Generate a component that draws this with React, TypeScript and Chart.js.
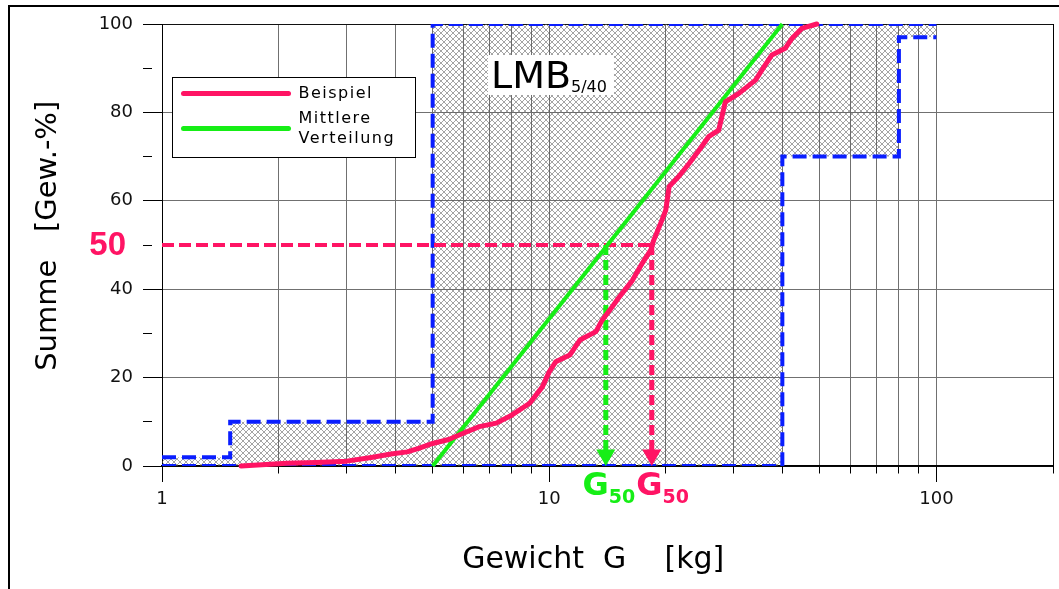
import React, { useEffect, useRef } from 'react';
import { Chart, registerables } from 'chart.js';

Chart.register(...registerables);

// ---------- data ----------
const beispielX = [1.6, 2.1, 2.5, 3.0, 3.5, 3.9, 4.3, 4.6, 5.0, 5.5, 6.0, 6.6, 7.3, 8.0, 8.9, 9.6, 10.0, 10.4, 11.3, 12.0, 13.2, 13.7, 14.4, 15.1, 16.4, 17.4, 18.3, 18.6, 19.4, 20.0, 20.4, 21.6, 23.0, 24.4, 25.8, 27.4, 28.5, 30.9, 34.1, 36.1, 37.6, 40.7, 42.4, 44.9, 49.1];
const beispielY = [0, 0.6, 0.8, 1.1, 2.0, 2.7, 3.2, 4.0, 5.1, 6.0, 7.4, 8.9, 9.7, 11.5, 14.2, 17.9, 21.3, 23.6, 25.1, 28.5, 30.4, 33.0, 35.5, 38.0, 42.0, 45.9, 48.9, 51.0, 54.9, 57.9, 63.2, 65.5, 68.5, 71.5, 74.5, 76.0, 82.4, 84.3, 87.3, 90.7, 93.0, 94.5, 96.8, 99.0, 100];

const mittlereX = [5, 40];
const mittlereY = [0, 100];

const bandUpperX = [1, 1.5, 5, 100];
const bandUpperY = [2, 10, 100, 100];
const bandLowerX = [1, 40, 80, 100];
const bandLowerY = [0, 70, 97, 97];

const g50Level = 50;
const g50Mittlere = 14.0;
const g50Beispiel = 18.4;
const arrowEndY = 2.5;
const levelLineStartX = 1;

const xTickValues = [1, 2, 3, 4, 5, 6, 7, 8, 9, 10, 20, 30, 40, 50, 60, 70, 80, 90, 100, 200];
const xLabelValues = [1, 10, 100];
const yTickValues = [0, 10, 20, 30, 40, 50, 60, 70, 80, 90, 100];

const legendLabels = ['Beispiel', ['Mittlere', 'Verteilung']];

// ---------- styles ----------
const PINK = '#ff1464';
const GREEN = '#16ee16';
const BLUE = '#0a1eff';
const FONT = '"DejaVu Sans", "Liberation Sans", sans-serif';

const zip = (xs: number[], ys: number[]) => xs.map((x, i) => ({ x, y: ys[i] }));

function makeHatch(): CanvasPattern | string {
  const c = document.createElement('canvas');
  c.width = 6;
  c.height = 6;
  const g = c.getContext('2d');
  if (!g) return 'rgba(150,150,150,0.4)';
  g.strokeStyle = 'rgba(90,90,90,0.55)';
  g.lineWidth = 1;
  g.beginPath();
  g.moveTo(0, 0);
  g.lineTo(6, 6);
  g.moveTo(6, 0);
  g.lineTo(0, 6);
  g.stroke();
  const p = g.createPattern(c, 'repeat');
  return p || 'rgba(150,150,150,0.4)';
}

const annotationPlugin = {
  id: 'annotations',
  afterDraw(chart: any) {
    const { ctx, chartArea: ca, scales } = chart;
    const xs = scales.x;
    const ys = scales.y;
    ctx.save();

    // legend box
    const lx = ca.left + 10.5;
    const ly = ca.top + 53.5;
    ctx.fillStyle = '#fff';
    ctx.fillRect(lx, ly, 243, 80);
    ctx.strokeStyle = '#000';
    ctx.lineWidth = 1;
    ctx.strokeRect(lx, ly, 243, 80);
    const dsB = chart.data.datasets.find((d: any) => d.label === 'Beispiel');
    const dsM = chart.data.datasets.find((d: any) => d.label === 'Mittlere Verteilung');
    ctx.lineCap = 'round';
    ctx.lineWidth = 5;
    ctx.strokeStyle = dsB.borderColor;
    ctx.beginPath();
    ctx.moveTo(lx + 11, ly + 16);
    ctx.lineTo(lx + 116, ly + 16);
    ctx.stroke();
    ctx.strokeStyle = dsM.borderColor;
    ctx.beginPath();
    ctx.moveTo(lx + 11, ly + 51);
    ctx.lineTo(lx + 116, ly + 51);
    ctx.stroke();
    ctx.fillStyle = '#000';
    ctx.font = '16px ' + FONT;
    (ctx as any).letterSpacing = '1.5px';
    ctx.textAlign = 'left';
    ctx.textBaseline = 'middle';
    ctx.fillText(legendLabels[0] as string, lx + 126, ly + 16);
    const ml = legendLabels[1] as string[];
    ctx.fillText(ml[0], lx + 126, ly + 41);
    ctx.fillText(ml[1], lx + 126, ly + 61);
    (ctx as any).letterSpacing = '0px';

    // LMB box
    const bx = ca.left + 326;
    const by = ca.top + 31;
    ctx.font = '38px ' + FONT;
    const wL = ctx.measureText('LMB').width;
    ctx.font = '16px ' + FONT;
    const wSub = ctx.measureText('5/40').width;
    ctx.fillStyle = '#fff';
    ctx.fillRect(bx, by, wL + wSub + 10, 40);
    ctx.fillStyle = '#000';
    ctx.textBaseline = 'alphabetic';
    ctx.font = '38px ' + FONT;
    ctx.fillText('LMB', bx + 3, by + 33);
    ctx.font = '16px ' + FONT;
    ctx.fillText('5/40', bx + 3 + wL, by + 37);

    // "50" label left of axis
    ctx.font = 'bold 33px "Liberation Sans", sans-serif';
    ctx.fillStyle = PINK;
    ctx.textAlign = 'right';
    ctx.textBaseline = 'middle';
    ctx.fillText('50', ca.left - 36, ys.getPixelForValue(g50Level) + 1);

    // G50 labels
    ctx.textAlign = 'left';
    ctx.textBaseline = 'alphabetic';
    const bigF = 'bold 32px ' + FONT;
    const subF = 'bold 19px ' + FONT;
    ctx.font = bigF;
    const wG = ctx.measureText('G').width;
    ctx.font = subF;
    const w50 = ctx.measureText('50').width;
    const gx = xs.getPixelForValue(g50Mittlere) + 3 - (wG + w50) / 2;
    const baseY = ca.bottom + 29;
    const drawG = (x0: number, color: string) => {
      ctx.fillStyle = color;
      ctx.font = bigF;
      ctx.fillText('G', x0, baseY);
      ctx.font = subF;
      ctx.fillText('50', x0 + wG, baseY + 8);
    };
    drawG(gx, GREEN);
    drawG(gx + wG + w50 + 1, PINK);

    ctx.restore();
  },
};

export default function App() {
  const ref = useRef<HTMLCanvasElement | null>(null);

  useEffect(() => {
    if (!ref.current) return;
    const hatch = makeHatch();
    const chart = new Chart(ref.current, {
      type: 'line',
      data: {
        datasets: [
          {
            label: 'LMB oben',
            data: zip(bandUpperX, bandUpperY),
            stepped: 'before',
            borderColor: BLUE,
            borderWidth: 4,
            borderDash: [14, 6],
            backgroundColor: hatch as any,
            fill: '+1',
            pointRadius: 0,
            order: 10,
          },
          {
            label: 'LMB unten',
            data: zip(bandLowerX, bandLowerY),
            stepped: 'before',
            borderColor: BLUE,
            borderWidth: 4,
            borderDash: [14, 6],
            fill: false,
            pointRadius: 0,
            order: 9,
          },
          {
            label: 'Niveau 50',
            data: [
              { x: levelLineStartX, y: g50Level },
              { x: g50Beispiel, y: g50Level },
            ],
            borderColor: PINK,
            borderWidth: 4,
            borderDash: [12, 5],
            pointRadius: 0,
            fill: false,
            order: 6,
            clip: false as any,
          },
          {
            label: 'G50 Mittlere',
            data: [
              { x: g50Mittlere, y: g50Level },
              { x: g50Mittlere, y: arrowEndY },
            ],
            borderColor: GREEN,
            borderWidth: 5,
            borderDash: [10, 5],
            pointRadius: [0, 11],
            pointStyle: 'triangle',
            pointRotation: 180,
            pointBackgroundColor: GREEN,
            pointBorderWidth: 0,
            fill: false,
            order: 5,
          },
          {
            label: 'G50 Beispiel',
            data: [
              { x: g50Beispiel, y: g50Level },
              { x: g50Beispiel, y: arrowEndY },
            ],
            borderColor: PINK,
            borderWidth: 5,
            borderDash: [10, 5],
            pointRadius: [0, 11],
            pointStyle: 'triangle',
            pointRotation: 180,
            pointBackgroundColor: PINK,
            pointBorderWidth: 0,
            fill: false,
            order: 4,
          },
          {
            label: 'Mittlere Verteilung',
            data: zip(mittlereX, mittlereY),
            borderColor: GREEN,
            borderWidth: 4,
            pointRadius: 0,
            fill: false,
            order: 2,
            clip: false as any,
          },
          {
            label: 'Beispiel',
            data: zip(beispielX, beispielY),
            borderColor: PINK,
            borderWidth: 5,
            borderJoinStyle: 'round',
            borderCapStyle: 'round',
            pointRadius: 0,
            fill: false,
            order: 1,
            clip: false as any,
          },
        ],
      },
      options: {
        responsive: false,
        animation: false,
        devicePixelRatio: 1,
        events: [],
        layout: { autoPadding: false, padding: { left: 0, right: 6, top: 24, bottom: 0 } },
        plugins: {
          legend: { display: false },
          tooltip: { enabled: false },
        },
        scales: {
          x: {
            type: 'logarithmic',
            min: 1,
            max: 200,
            position: 'bottom',
            afterBuildTicks: (s: any) => {
              s.ticks = xTickValues.map((v) => ({ value: v }));
            },
            afterFit: (s: any) => {
              s.height = 123;
              s.paddingLeft = 0;
              s.paddingRight = 0;
            },
            ticks: {
              autoSkip: false,
              maxRotation: 0,
              minRotation: 0,
              padding: 7,
              color: '#111',
              font: { family: FONT, size: 18 },
              callback: (v: any) => (xLabelValues.includes(Number(v)) ? String(v) : ''),
            },
            grid: {
              color: (c: any) => (c.tick && c.tick.value === 200 ? '#000' : '#707070'),
              lineWidth: 1,
              tickLength: 16,
              tickColor: '#000',
              tickBorderDash: (c: any) => (c.tick && xLabelValues.includes(c.tick.value) ? [] : [7, 100]),
            },
            border: { display: true, color: '#000', width: 1.5 },
            title: {
              display: true,
              text: 'Gewicht  G    [kg]   ',
              color: '#000',
              font: { family: FONT, size: 30 },
              padding: { top: 0, bottom: 11 },
            },
          },
          y: {
            type: 'linear',
            min: 0,
            max: 100,
            afterBuildTicks: (s: any) => {
              s.ticks = yTickValues.map((v) => ({ value: v }));
            },
            afterFit: (s: any) => {
              s.width = 162;
            },
            ticks: {
              padding: 10,
              color: '#111',
              font: { family: FONT, size: 18 },
              callback: (v: any) => (Number(v) % 20 === 0 ? String(v) : ''),
            },
            grid: {
              color: (c: any) => {
                const v = c.tick ? c.tick.value : 0;
                if (v % 20 !== 0) return 'rgba(0,0,0,0)';
                return v === 0 || v === 100 ? '#111' : '#707070';
              },
              lineWidth: 1,
              tickLength: 19,
              tickColor: '#000',
              tickBorderDash: (c: any) => (c.tick && c.tick.value % 20 !== 0 ? [9, 100] : []),
            },
            border: { display: true, color: '#000', width: 1 },
            title: {
              display: true,
              text: '  Summe   [Gew.-%]',
              color: '#000',
              font: { family: FONT, size: 29 },
              padding: { top: 31, bottom: 0 },
            },
          },
          yRight: {
            type: 'linear',
            position: 'right',
            display: true,
            min: 0,
            max: 100,
            afterFit: (s: any) => {
              s.width = 0;
            },
            ticks: { display: false },
            grid: { display: false, drawTicks: false },
            border: { display: true, color: '#000', width: 1 },
          },
        },
      } as any,
      plugins: [annotationPlugin],
    });
    return () => chart.destroy();
  }, []);

  return (
    <div
      style={{
        position: 'fixed',
        left: 0,
        top: 0,
        width: 1059,
        height: 589,
        background: '#fff',
        overflow: 'hidden',
      }}
    >
      <div
        style={{
          position: 'absolute',
          left: 8,
          top: 5,
          width: 1100,
          height: 700,
          borderLeft: '2px solid #000',
          borderTop: '2px solid #000',
        }}
      />
      <canvas
        ref={ref}
        width={1059}
        height={589}
        style={{ position: 'absolute', left: 0, top: 0, width: 1059, height: 589 }}
      />
    </div>
  );
}
